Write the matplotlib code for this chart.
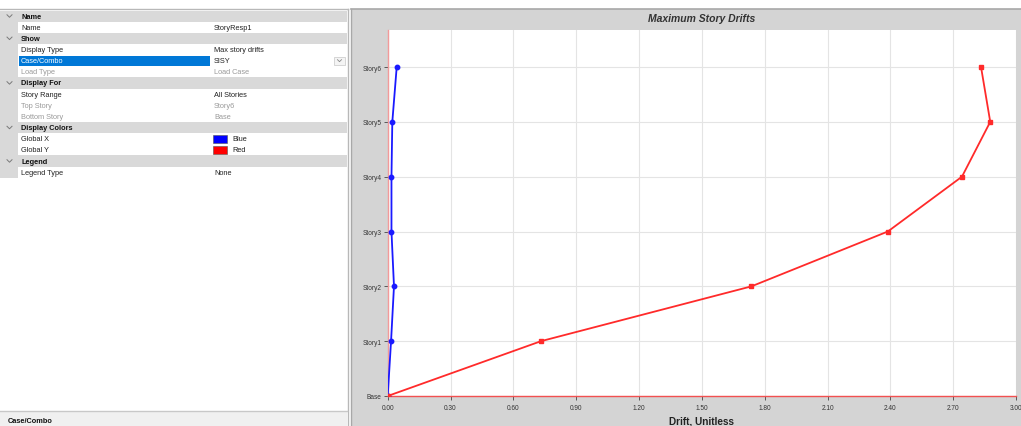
import numpy as np
import matplotlib
matplotlib.use("Agg")
import matplotlib.pyplot as plt
from matplotlib.patches import Rectangle

plt.rcParams["font.family"] = ["Liberation Sans", "DejaVu Sans"]

# chart data
stories = ["Base", "Story1", "Story2", "Story3", "Story4", "Story5", "Story6"]
drift_x = [0.0, 0.016, 0.030, 0.018, 0.018, 0.022, 0.043]   # Global X (blue)
drift_y = [0.0, 0.732, 1.737, 2.388, 2.742, 2.877, 2.833]   # Global Y (red)
x_ticks = [0.0, 0.3, 0.6, 0.9, 1.2, 1.5, 1.8, 2.1, 2.4, 2.7, 3.0]

# property grid content
grid_rows = [
    ("header", "Name"),
    ("Name", "StoryResp1"),
    ("header", "Show"),
    ("Display Type", "Max story drifts"),
    ("Case/Combo", "SISY"),
    ("Load Type", "Load Case"),
    ("header", "Display For"),
    ("Story Range", "All Stories"),
    ("Top Story", "Story6"),
    ("Bottom Story", "Base"),
    ("header", "Display Colors"),
    ("Global X", "Blue"),
    ("Global Y", "Red"),
    ("header", "Legend"),
    ("Legend Type", "None"),
]
disabled = ["Load Type", "Top Story", "Bottom Story"]
swatches = {"Blue": "#0000ff", "Red": "#ff0000"}

W, H = 1021, 427
fig = plt.figure(figsize=(W / 100, H / 100), dpi=100)
fig.patch.set_facecolor("white")

# background "window" drawn in pixel coords
bg = fig.add_axes([0, 0, 1, 1])
bg.set_xlim(0, W); bg.set_ylim(H, 0)
bg.axis("off")

# chart panel
bg.add_patch(Rectangle((351, 10), W - 351, H - 10, facecolor="#d4d4d4", edgecolor="none"))
bg.plot([351, W], [10, 10], color="#a8a8a8", lw=1.2)
bg.plot([351, 351], [10, H], color="#a8a8a8", lw=1.0)
bg.plot([348, 348], [10, H], color="#b8b8b8", lw=1.0)
bg.plot([0, 348], [10, 10], color="#b8b8b8", lw=1.0)

# property grid
row_h = 11.15
top = 11.5
fs = 5.3
bg.add_patch(Rectangle((0, top), 18, row_h * len(grid_rows), facecolor="#d9d9d9", edgecolor="none"))
for i, (label, value) in enumerate(grid_rows):
    y0 = top + i * row_h
    yc = y0 + row_h / 2
    if label == "header":
        bg.add_patch(Rectangle((0, y0), 347, row_h, facecolor="#d9d9d9", edgecolor="none"))
        bg.plot([7, 9.5, 12], [yc - 1.3, yc + 1.2, yc - 1.3], color="#7a7a7a", lw=0.7)
        bg.text(21, yc, value, fontsize=fs, fontweight="bold", va="center", ha="left", color="#111111")
        continue
    sel = label == "Case/Combo"
    bg.add_patch(Rectangle((19, y0 + 0.5), 191, row_h - 1, facecolor="#0078d7" if sel else "white", edgecolor="none"))
    bg.add_patch(Rectangle((211, y0 + 0.5), 136, row_h - 1, facecolor="white", edgecolor="none"))
    tc = "#9a9a9a" if label in disabled else "#222222"
    bg.text(21, yc, label, fontsize=fs, va="center", ha="left", color="white" if sel else tc)
    vx = 214
    if value in swatches:
        bg.add_patch(Rectangle((213, yc - 4), 14, 8, facecolor=swatches[value], edgecolor="#555555", lw=0.4))
        vx = 232
    bg.text(vx, yc, value, fontsize=fs, va="center", ha="left", color=tc)
    if sel:
        bg.add_patch(Rectangle((334, y0 + 1.5), 11, row_h - 3, facecolor="#f4f4f4", edgecolor="#c8c8c8", lw=0.5))
        bg.plot([337.5, 339.5, 341.5], [yc - 1, yc + 1, yc - 1], color="#888888", lw=0.6)

# description area
bg.add_patch(Rectangle((0, 412), 347, H - 412, facecolor="#f0f0f0", edgecolor="none"))
bg.plot([0, 347], [412, 412], color="#c8c8c8", lw=1.0)
bg.text(8, 422, "Case/Combo", fontsize=fs, fontweight="bold", va="center", ha="left", color="#111111")

# the chart itself
left, right, ptop, pbot = 387.7, 1016, 31, 397
ax = fig.add_axes([left / W, 1 - pbot / H, (right - left) / W, (pbot - ptop) / H])
ax.set_facecolor("white")
levels = np.arange(len(stories))
ax.plot(drift_x, levels, color="#1a1aff", lw=1.3, marker="o", markersize=3.2, zorder=3)
ax.plot(drift_y, levels, color="#ff2a2a", lw=1.3, marker="s", markersize=3, zorder=3)

ax.set_xlim(0, 3.0)
ax.set_ylim(0, (pbot - ptop) / ((pbot - 68) / 6))
ax.set_xticks(x_ticks)
ax.set_xticklabels([f"{t:.2f}" for t in x_ticks])
ax.set_yticks(levels)
ax.set_yticklabels(stories)
ax.grid(True, color="#e4e4e4", lw=0.8)
ax.set_axisbelow(True)
ax.tick_params(axis="both", labelsize=4.7, colors="#444444", length=3, width=0.6, pad=1.5)
ax.tick_params(axis="x", pad=2.5)
for t in ax.get_xticklabels() + ax.get_yticklabels():
    t.set_color("#333333")
for s in ["top", "right"]:
    ax.spines[s].set_visible(False)
ax.spines["left"].set_color("#f29a9a")
ax.spines["left"].set_linewidth(1.0)
ax.spines["bottom"].set_color("#f25050")
ax.spines["bottom"].set_linewidth(1.0)

ax.set_title("Maximum Story Drifts", fontsize=7.5, fontweight="bold", fontstyle="italic",
             color="#333333", y=(pbot - 19) / (pbot - ptop), va="center", pad=0)
ax.set_xlabel("Drift, Unitless", fontsize=7.2, fontweight="bold", color="#222222")
ax.xaxis.set_label_coords(0.5, (pbot - 422) / (pbot - ptop))
ax.xaxis.label.set_va("center")

fig.savefig("out.png", dpi=100)
